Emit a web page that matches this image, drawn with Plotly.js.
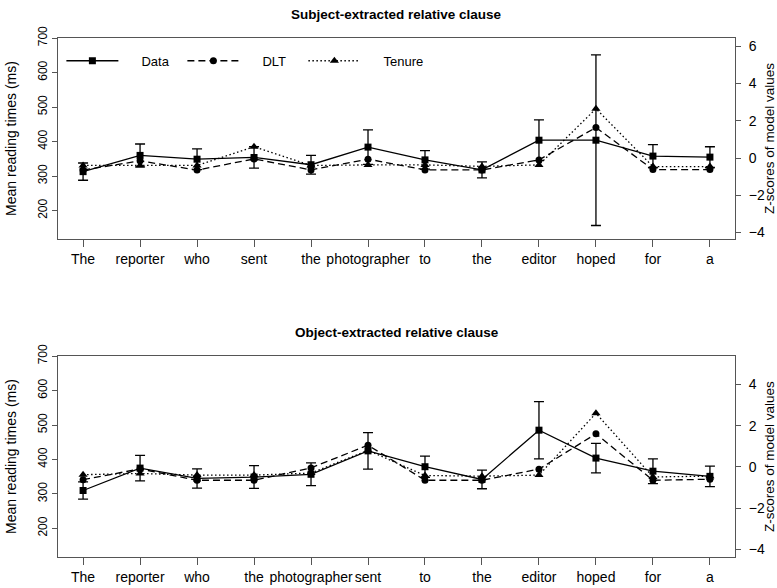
<!DOCTYPE html>
<html>
<head>
<meta charset="utf-8">
<script src="https://cdn.plot.ly/plotly-3.0.1.min.js"></script>
<style>
  html, body { margin: 0; padding: 0; background: #fff; }
  #chart { width: 777px; height: 588px; }
</style>
</head>
<body>
<div id="chart"></div>
<script>
// ---- data ----
const wordsSubject = ['The','reporter','who','sent','the','photographer','to','the','editor','hoped','for','a'];
const wordsObject  = ['The','reporter','who','the','photographer','sent','to','the','editor','hoped','for','a'];

const dataSubject   = [313, 360, 349, 354, 333, 384, 347, 318, 404, 404, 358, 355];
const errSubject    = [25, 33, 30, 31, 27, 50, 27, 23, 59, 247, 33, 30];
const dltSubject    = [-0.65, -0.15, -0.65, -0.05, -0.64, -0.06, -0.64, -0.64, -0.1, 1.64, -0.62, -0.62];
const tenureSubject = [-0.4, -0.4, -0.4, 0.6, -0.4, -0.37, -0.37, -0.45, -0.37, 2.65, -0.46, -0.46];

const dataObject    = [310, 375, 345, 349, 357, 425, 379, 342, 485, 404, 366, 351];
const errObject     = [25, 37, 28, 33, 33, 53, 31, 27, 83, 43, 36, 30];
const dltObject     = [-0.62, -0.1, -0.65, -0.65, -0.05, 1.05, -0.65, -0.65, -0.11, 1.6, -0.65, -0.6];
const tenureObject  = [-0.38, -0.32, -0.4, -0.4, -0.3, 0.8, -0.42, -0.45, -0.4, 2.6, -0.49, -0.45];

const seriesNames = ['Data', 'DLT', 'Tenure'];
const leftTicks  = [200, 300, 400, 500, 600, 700];
const rightTicksSubject = [-4, -2, 0, 2, 4, 6];
const rightTicksObject  = [-4, -2, 0, 2, 4];

// ---- styles ----
const FONT = 'Liberation Sans, Arial, sans-serif';
const INK = '#000';
const BOX = '#555';
const PAD = '\u00a0\u00a0\u00a0\u00a0\u00a0';

function pos(arr) { return arr.map((_, i) => i); }

function dataTrace(words, y, err, xa, ya, show) {
  return {
    type: 'scatter', mode: 'lines+markers', name: PAD + seriesNames[0],
    x: pos(words), y: y, xaxis: xa, yaxis: ya, showlegend: show,
    line: { color: INK, width: 1.3 },
    marker: { symbol: 'square', size: 7, color: INK },
    error_y: { type: 'data', array: err, visible: true, color: INK, thickness: 1.3, width: 5 },
    cliponaxis: false
  };
}
function modelTrace(words, y, name, dash, symbol, size, xa, ya, show) {
  return {
    type: 'scatter', mode: 'lines+markers', name: PAD + name,
    x: pos(words), y: y, xaxis: xa, yaxis: ya, showlegend: show,
    line: { color: INK, width: 1.3, dash: dash },
    marker: { symbol: symbol, size: size, color: INK },
    cliponaxis: false
  };
}

const traces = [
  dataTrace(wordsSubject, dataSubject, errSubject, 'x', 'y', true),
  modelTrace(wordsSubject, dltSubject, seriesNames[1], '7px,4px', 'circle', 7, 'x', 'y2', true),
  modelTrace(wordsSubject, tenureSubject, seriesNames[2], '1.5px,2.5px', 'triangle-up', 8, 'x', 'y2', true),
  dataTrace(wordsObject, dataObject, errObject, 'x2', 'y3', false),
  modelTrace(wordsObject, dltObject, seriesNames[1], '7px,4px', 'circle', 7, 'x2', 'y4', false),
  modelTrace(wordsObject, tenureObject, seriesNames[2], '1.5px,2.5px', 'triangle-up', 8, 'x2', 'y4', false)
];

function xAxis(words, domainAnchor) {
  return {
    anchor: domainAnchor, range: [-0.44, 11.44], domain: [0, 1],
    tickmode: 'array', tickvals: pos(words), ticktext: words,
    tickangle: 0,
    ticks: 'outside', ticklen: 7, tickcolor: BOX, tickwidth: 1,
    showline: true, mirror: true, linecolor: BOX, linewidth: 1,
    showgrid: false, zeroline: false,
    tickfont: { family: FONT, size: 14, color: INK }
  };
}
function leftAxis(domain, range, xa) {
  return {
    domain: domain, range: range, anchor: xa,
    tickmode: 'array', tickvals: leftTicks,
    ticks: 'outside', ticklen: 5, tickcolor: BOX,
    tickangle: -90,
    showline: true, mirror: true, linecolor: BOX, linewidth: 1,
    showgrid: false, zeroline: false,
    tickfont: { family: FONT, size: 12, color: INK },
    title: { text: 'Mean reading times (ms)', font: { family: FONT, size: 14, color: INK }, standoff: 16 }
  };
}
function rightAxis(range, ticks, over, xa) {
  return {
    overlaying: over, side: 'right', range: range, anchor: xa,
    tickmode: 'array', tickvals: ticks,
    ticks: 'outside', ticklen: 5, tickcolor: BOX,
    ticklabelstandoff: 5,
    showline: false, showgrid: false, zeroline: false,
    tickfont: { family: FONT, size: 14, color: INK },
    title: { text: 'Z-scores of model values', font: { family: FONT, size: 13.5, color: INK }, standoff: 4 }
  };
}

const layout = {
  width: 777, height: 588,
  margin: { l: 58, r: 42, t: 38.3, b: 31.3, pad: 0 },
  paper_bgcolor: '#fff', plot_bgcolor: '#fff',
  font: { family: FONT, color: INK },
  xaxis:  xAxis(wordsSubject, 'y'),
  xaxis2: xAxis(wordsObject, 'y3'),
  yaxis:  leftAxis([0.6128, 1], [118, 700], 'x'),
  yaxis2: rightAxis([-4.35, 6.45], rightTicksSubject, 'y', 'x'),
  yaxis3: leftAxis([0, 0.3871], [117, 700], 'x2'),
  yaxis4: rightAxis([-4.37, 5.37], rightTicksObject, 'y3', 'x2'),
  showlegend: true,
  legend: {
    orientation: 'h', x: 0.005, y: 0.985, xanchor: 'left', yanchor: 'top',
    bgcolor: 'rgba(0,0,0,0)', borderwidth: 0,
    font: { family: FONT, size: 13, color: INK },
    entrywidth: 54, entrywidthmode: 'pixels', itemwidth: 52, traceorder: 'normal'
  },
  annotations: [
    { text: '<b>Subject-extracted relative clause</b>', xref: 'paper', yref: 'paper',
      x: 0.5, y: 1 + (38.3 - 14.5) / 518.4, xanchor: 'center', yanchor: 'middle', showarrow: false,
      font: { family: FONT, size: 13.5, color: INK } },
    { text: '<b>Object-extracted relative clause</b>', xref: 'paper', yref: 'paper',
      x: 0.5, y: 1 - (332 - 38.3) / 518.4, xanchor: 'center', yanchor: 'middle', showarrow: false,
      font: { family: FONT, size: 13.5, color: INK } }
  ]
};

Plotly.newPlot('chart', traces, layout, { displayModeBar: false, staticPlot: true });
</script>
</body>
</html>
